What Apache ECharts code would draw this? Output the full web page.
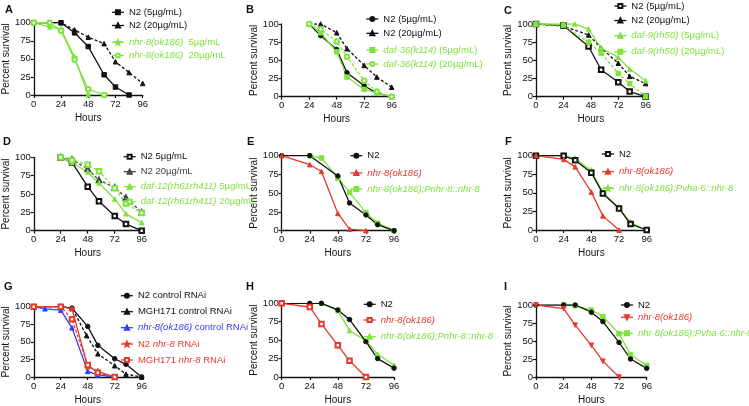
<!DOCTYPE html>
<html><head><meta charset="utf-8">
<script src="https://cdn.jsdelivr.net/npm/echarts@6/dist/echarts.min.js"></script>
<style>html,body{margin:0;padding:0;background:#fff}#c{width:749px;height:406px}</style>
</head><body><div id="c"></div>
<script>
// ---------- data ----------
const xTicks = [0, 24, 48, 72, 96];
const yTicks = [0, 25, 50, 75, 100];
const panelLabels = ['A','B','C','D','E','F','G','H','I'];

// A
const A_N2_5   = [[0,100],[24,100],[36,86],[48,67],[62,28],[72,11],[84,0]];
const A_N2_20  = [[0,100],[24,100],[36,90],[48,80],[62,71],[72,46],[84,31],[96,16]];
const A_nhr_5  = [[0,100],[14,94],[24,91],[36,52],[48,0]];
const A_nhr_20 = [[0,100],[14,100],[24,89],[36,49],[48,8],[62,0]];
// B
const B_N2_5   = [[24,100],[34,84],[48,65],[57,33],[72,15],[83,5],[96,0]];
const B_N2_20  = [[24,100],[34,100],[48,88],[57,66],[72,43],[83,27],[96,13]];
const B_daf_5  = [[24,100],[34,88],[48,62],[57,27],[72,10],[83,5],[96,0]];
const B_daf_20 = [[24,100],[34,93],[48,76],[57,55],[72,22],[83,7],[96,0]];
// C
const C_N2_5   = [[0,100],[24,98],[46,69],[57,37],[72,20],[82,7],[96,0]];
const C_N2_20  = [[0,100],[24,97],[46,85],[57,67],[72,46],[82,28],[96,18]];
const C_daf_5  = [[0,100],[24,100],[34,100],[46,93],[57,67],[72,54],[82,38],[96,22]];
const C_daf_20 = [[0,100],[24,98],[46,75],[57,60],[72,32],[82,18],[96,0]];
// D
const D_N2_5   = [[24,100],[34,93],[48,60],[58,40],[72,20],[82,9],[96,0]];
const D_N2_20  = [[24,100],[34,97],[48,84],[58,69],[72,59],[82,45],[96,25]];
const D_daf_5  = [[24,100],[34,93],[48,80],[58,65],[72,43],[82,23],[96,11]];
const D_daf_20 = [[24,100],[34,96],[48,90],[58,81],[72,58],[82,37],[96,24]];
// E
const E_N2     = [[0,100],[24,100],[48,73],[58,37],[72,21],[82,8],[96,0]];
const E_nhr    = [[0,100],[24,88],[34,79],[48,23],[58,2],[72,0]];
const E_resc   = [[24,100],[34,97],[48,70],[58,51],[72,24],[82,10],[96,0]];
// F
const F_N2     = [[0,100],[24,100],[34,94],[48,77],[58,49],[72,29],[82,8],[96,0]];
const F_nhr    = [[0,100],[24,95],[34,85],[48,51],[58,19],[72,0]];
const F_resc   = [[0,100],[24,100],[34,96],[48,80],[58,50],[72,30],[82,10],[96,0]];
// G
const G_N2_ctrl   = [[0,100],[24,100],[34,98],[48,72],[57,45],[72,26],[82,18],[96,0]];
const G_MGH_ctrl  = [[0,100],[24,100],[34,98],[47,59],[57,33],[72,16],[82,4],[96,0]];
const G_nhr_ctrl  = [[0,100],[10,97],[24,95],[34,70],[48,8],[57,3],[72,0]];
const G_N2_rnai   = [[0,100],[24,100],[34,97],[48,15],[57,8],[72,0]];
const G_MGH_rnai  = [[0,100],[24,100],[34,82],[48,17],[57,6],[72,0]];
// H
const H_N2     = [[0,100],[24,100],[34,100],[48,91],[58,78],[72,48],[82,25],[96,12]];
const H_nhr    = [[0,100],[24,95],[34,72],[48,43],[58,22],[72,0]];
const H_resc   = [[34,100],[48,90],[58,63],[72,49],[82,31],[96,16]];
// I
const I_N2     = [[0,100],[24,100],[34,100],[48,90],[58,77],[72,48],[82,25],[96,12]];
const I_nhr    = [[0,100],[24,95],[34,72],[48,44],[58,22],[72,0]];
const I_resc   = [[24,100],[34,99],[48,93],[58,84],[72,60],[82,31],[96,16]];

// ---------- styling / layout ----------
const FONT = 'Liberation Sans';
const BLACK = '#111111', GRAY = '#444444', GREEN = '#7ee33c', RED = '#e5392c', BLUE = '#3a3af0';
const STAR = 'path://M0,-10L2.5,-3.5L9.5,-3.1L4,1.5L5.9,8.5L0,4.5L-5.9,8.5L-4,1.5L-9.5,-3.1L-2.5,-3.5Z';

const grids = [
  {left:33,   top:22.7,  width:109.7, height:72.3},
  {left:281.7,top:24,    width:110,   height:72.7},
  {left:536,  top:24,    width:109.7, height:72.7},
  {left:32.3, top:157.3, width:109.4, height:73.4},
  {left:281.7,top:155.7, width:112.3, height:75},
  {left:536,  top:155.7, width:110.7, height:74.3},
  {left:32.3, top:306.7, width:109.4, height:71},
  {left:281.7,top:303.3, width:112.3, height:75},
  {left:536,  top:305,   width:110.7, height:74.3}
];
const labelPos = [[5,4],[246,4],[504,5],[3,136],[247,136],[505,136],[4,281],[246,281],[504,281]];

// series definitions: panel, key, label, data, color, symbol, dashed, legend [textLeft, centerY]
const S = [
  [0,'A1','N2 (5µg/mL)', A_N2_5, BLACK,'rect',false,[128.3,12.3]],
  [0,'A2','N2 (20µg/mL)', A_N2_20, BLACK,'triangle',true,[128.3,25.5]],
  [0,'A3','{i|nhr-8(ok186)}  5µg/mL', A_nhr_5, GREEN,STAR,false,[128.3,42.3]],
  [0,'A4','{i|nhr-8(ok186)}  20µg/mL', A_nhr_20, GREEN,'emptyCircle',false,[128.3,55.5]],
  [1,'B1','N2 (5µg/mL)', B_N2_5, BLACK,'circle',false,[382.7,19]],
  [1,'B2','N2 (20µg/mL)', B_N2_20, BLACK,'triangle',true,[382.7,33.3]],
  [1,'B3','{i|daf-36(k114)} (5µg/mL)', B_daf_5, GREEN,'rect',false,[382.7,50]],
  [1,'B4','{i|daf-36(k114)} (20µg/mL)', B_daf_20, GREEN,'emptyCircle',true,[382.7,64]],
  [2,'C1','N2 (5µg/mL)', C_N2_5, BLACK,'emptyRect',false,[630.7,6]],
  [2,'C2','N2 (20µg/mL)', C_N2_20, BLACK,'triangle',true,[630.7,20.5]],
  [2,'C3','{i|daf-9(rh50)} (5µg/mL)', C_daf_5, GREEN,'triangle',false,[630.7,35.7]],
  [2,'C4','{i|daf-9(rh50)} (20µg/mL)', C_daf_20, GREEN,'rect',true,[630.7,51.7]],
  [3,'D1','N2 5µg/mL', D_N2_5, BLACK,'emptyRect',false,[140,156.7]],
  [3,'D2','N2 20µg/mL', D_N2_20, GRAY,'emptyTriangle',true,[140,171.7]],
  [3,'D3','{i|daf-12(rh61rh411)} 5µg/mL', D_daf_5, GREEN,'triangle',false,[140,186.7]],
  [3,'D4','{i|daf-12(rh61rh411)} 20µg/mL', D_daf_20, GREEN,'emptyRect',true,[140,201.7]],
  [4,'E3','{i|nhr-8(ok186);Pnhr-8::nhr-8}', E_resc, GREEN,'rect',false,[366.7,189]],
  [4,'E1','N2', E_N2, BLACK,'circle',false,[366.7,155.7]],
  [4,'E2','{i|nhr-8(ok186)}', E_nhr, RED,'triangle',false,[366.7,173]],
  [5,'F3','{i|nhr-8(ok186);Pvha-6::nhr-8}', F_resc, GREEN,STAR,false,[618.3,188.3]],
  [5,'F1','N2', F_N2, BLACK,'emptyRect',false,[618.3,154]],
  [5,'F2','{i|nhr-8(ok186)}', F_nhr, RED,'triangle',false,[618.3,171.7]],
  [6,'G1','N2 control RNAi', G_N2_ctrl, BLACK,'circle',false,[137.3,295.7]],
  [6,'G2','MGH171 control RNAi', G_MGH_ctrl, BLACK,'triangle',true,[137.3,311.7]],
  [6,'G3','{i|nhr-8(ok186)} control RNAi', G_nhr_ctrl, BLUE,'triangle',false,[137.3,327.7]],
  [6,'G4','N2 {i|nhr-8} RNAi', G_N2_rnai, RED,STAR,false,[137.3,344]],
  [6,'G5','MGH171 {i|nhr-8} RNAi', G_MGH_rnai, RED,'emptyRect',true,[137.3,360]],
  [7,'H3','{i|nhr-8(ok186);Pnhr-8::nhr-8}', H_resc, GREEN,'triangle',false,[380,336.7]],
  [7,'H1','N2', H_N2, BLACK,'circle',false,[380,304.3]],
  [7,'H2','{i|nhr-8(ok186)}', H_nhr, RED,'emptyRect',false,[380,320]],
  [8,'I3','{i|nhr-8(ok186);Pvha-6::nhr-8}', I_resc, GREEN,'rect',false,[637.3,333.3]],
  [8,'I1','N2', I_N2, BLACK,'circle',false,[637.3,305]],
  [8,'I2','{i|nhr-8(ok186)}', I_nhr, RED,'triangle',false,[637.3,317.3]]
];
const invTri = {'I2':true};

const axisCommon = {
  axisLine:{show:true,onZero:false,lineStyle:{color:BLACK,width:1.3}},
  axisTick:{show:true,length:3,lineStyle:{color:BLACK,width:1.2}},
  splitLine:{show:false},
  axisLabel:{color:BLACK,fontSize:9.5,fontFamily:FONT},
  nameTextStyle:{color:BLACK,fontSize:10,fontFamily:FONT},
  nameLocation:'middle'
};

const IW = 12, IH = 5;
const option = {
  animation:false,
  backgroundColor:'#fff',
  title: panelLabels.map((t,i)=>({text:t,left:labelPos[i][0],top:labelPos[i][1],padding:0,
    textStyle:{fontSize:11,fontWeight:'bold',fontFamily:FONT,color:BLACK}})),
  grid: grids.map(g=>Object.assign({containLabel:false},g)),
  xAxis: grids.map((g,i)=>Object.assign({},axisCommon,{gridIndex:i,type:'value',min:0,max:96,interval:24,
    name:'Hours',nameGap:18,axisLabel:Object.assign({},axisCommon.axisLabel,{margin:4,
      customValues:xTicks}),axisTick:Object.assign({},axisCommon.axisTick,{customValues:xTicks})})),
  yAxis: grids.map((g,i)=>Object.assign({},axisCommon,{gridIndex:i,type:'value',min:0,max:100,interval:25,
    name:'Percent survival',nameGap:20,axisLabel:Object.assign({},axisCommon.axisLabel,{margin:3,
      customValues:yTicks}),axisTick:Object.assign({},axisCommon.axisTick,{customValues:yTicks})})),
  legend: S.map(s=>({
    data:[s[1]], left:s[7][0]-IW-5, top:s[7][1]-6, padding:0, itemWidth:IW, itemHeight:IH,
    selectedMode:false,
    lineStyle:{width:1.3, color:s[4], type:'solid'},
    formatter:()=>s[2],
    textStyle:{color:s[4],fontSize:9.5,fontFamily:FONT,lineHeight:12,
      rich:{i:{fontStyle:'italic',color:s[4],fontSize:9.5,fontFamily:FONT}}}
  })),
  series: S.map(s=>({
    name:s[1], type:'line', xAxisIndex:s[0], yAxisIndex:s[0], data:s[3],
    symbol:s[5], symbolSize:(s[5]===STAR?6:4.5), symbolRotate: invTri[s[1]]?180:0,
    color:s[4],
    itemStyle:{color:s[4],borderColor:s[4],borderWidth:1},
    lineStyle:{color:s[4],width:1.3,type:s[6]?[3,2]:'solid'},
    emphasis:{disabled:true}
  }))
};
echarts.init(document.getElementById('c'),null,{renderer:'canvas'}).setOption(option);
</script></body></html>
